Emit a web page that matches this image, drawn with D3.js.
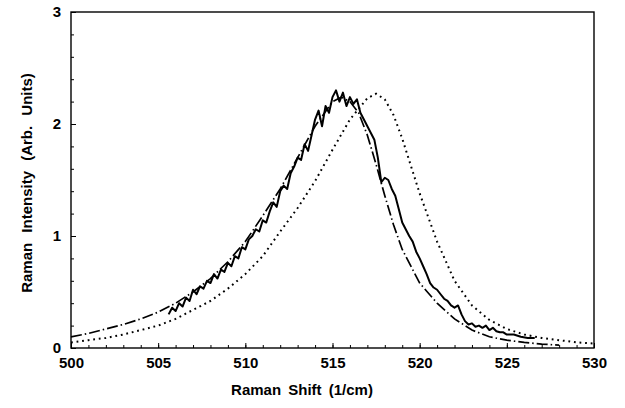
<!DOCTYPE html>
<html><head><meta charset="utf-8">
<script src="https://cdn.jsdelivr.net/npm/d3@7"></script>
<style>
body{margin:0;background:#fff;}
svg{display:block;}
text{font-family:"Liberation Sans",Arial,sans-serif;font-weight:bold;fill:#000;}
</style></head>
<body>
<svg id="chart" width="625" height="408"></svg>
<script>
// Measured spectrum (solid)
const measuredShift = [505.6,505.8,506.0,506.2,506.4,506.6,506.8,507.0,507.2,507.4,507.6,507.8,508.0,508.2,508.4,508.6,508.8,509.0,509.2,509.4,509.6,509.8,510.0,510.2,510.4,510.6,510.8,511.0,511.2,511.4,511.6,511.8,512.0,512.2,512.4,512.6,512.8,513.0,513.2,513.4,513.6,513.8,514.0,514.2,514.4,514.6,514.8,515.0,515.2,515.4,515.6,515.8,516.0,516.2,516.4,516.6,516.8,517.0,517.2,517.4,517.6,517.8,518.0,518.2,518.4,518.6,518.8,519.0,519.2,519.4,519.6,519.8,520.0,520.2,520.4,520.6,520.8,521.0,521.2,521.4,521.6,521.8,522.0,522.2,522.4,522.6,522.8,523.0,523.2,523.4,523.6,523.8,524.0,524.2,524.4,524.6,524.8,525.0,525.4,525.8,526.2,526.6];
const measuredIntensity = [0.30,0.36,0.33,0.40,0.37,0.45,0.42,0.52,0.48,0.55,0.53,0.60,0.58,0.66,0.62,0.70,0.68,0.76,0.73,0.82,0.80,0.90,0.88,0.97,1.00,1.06,1.04,1.14,1.12,1.22,1.30,1.26,1.40,1.45,1.42,1.56,1.62,1.70,1.68,1.82,1.76,1.90,2.04,2.12,1.98,2.16,2.10,2.24,2.30,2.20,2.28,2.16,2.24,2.18,2.22,2.10,2.04,1.98,1.92,1.86,1.70,1.48,1.52,1.50,1.42,1.36,1.24,1.12,1.06,1.00,0.95,0.86,0.80,0.73,0.66,0.58,0.54,0.52,0.48,0.44,0.42,0.38,0.36,0.38,0.30,0.24,0.21,0.22,0.19,0.20,0.18,0.20,0.16,0.18,0.15,0.14,0.14,0.12,0.12,0.10,0.09,0.09];

// Model fit (dash-dot)
const fitShift = [500,501,502,503,504,505,506,507,508,509,510,511,512,513,514,515,515.5,516,516.5,517,517.5,518,518.5,519,520,521,522,523,524,525,526,527,528];
const fitIntensity = [0.10,0.13,0.17,0.21,0.26,0.32,0.40,0.50,0.62,0.77,0.95,1.18,1.42,1.70,1.98,2.20,2.24,2.20,2.10,1.90,1.64,1.36,1.10,0.88,0.58,0.40,0.26,0.16,0.10,0.07,0.05,0.035,0.025];

// Bulk reference (dotted)
const bulkShift = [500,501,502,503,504,505,506,507,508,509,510,511,512,513,514,515,516,517,517.5,518,518.5,519,520,521,522,523,524,525,526,527,528,529,530];
const bulkIntensity = [0.05,0.07,0.09,0.12,0.16,0.20,0.26,0.34,0.42,0.53,0.66,0.82,1.04,1.25,1.49,1.77,2.04,2.23,2.27,2.22,2.08,1.87,1.38,0.95,0.60,0.38,0.25,0.17,0.12,0.09,0.07,0.05,0.04];

const xTicks = [500,505,510,515,520,525,530];
const yTicks = [0,1,2,3];

const svg = d3.select("#chart");
const L = 71, R = 594, T = 12, B = 348;
const x = d3.scaleLinear().domain([500,530]).range([L,R]);
const y = d3.scaleLinear().domain([0,3]).range([B,T]);

const line = (xs, ys) => d3.line().x((d,i)=>x(xs[i])).y((d,i)=>y(ys[i]))(xs);

// curves
svg.append("path").attr("d", line(bulkShift,bulkIntensity))
  .attr("fill","none").attr("stroke","#000").attr("stroke-width",2).attr("stroke-dasharray","1.8,3.8");
svg.append("path").attr("d", line(fitShift,fitIntensity))
  .attr("fill","none").attr("stroke","#000").attr("stroke-width",1.7).attr("stroke-dasharray","11,3,1.5,3");
svg.append("path").attr("d", line(measuredShift,measuredIntensity))
  .attr("fill","none").attr("stroke","#000").attr("stroke-width",2).attr("stroke-linejoin","round");

// minor ticks
const gxm = svg.append("g").attr("transform",`translate(0,${B})`)
  .call(d3.axisBottom(x).tickValues(d3.range(500,531,1)).tickSize(-3).tickFormat(""));
const gym = svg.append("g").attr("transform",`translate(${L},0)`)
  .call(d3.axisLeft(y).tickValues(d3.range(0,3.01,0.2)).tickSize(-3).tickFormat(""));
// major axes
const gx = svg.append("g").attr("transform",`translate(0,${B})`)
  .call(d3.axisBottom(x).tickValues(xTicks).tickSize(-5).tickPadding(9).tickFormat(d3.format("d")));
const gy = svg.append("g").attr("transform",`translate(${L},0)`)
  .call(d3.axisLeft(y).tickValues(yTicks).tickSize(-5).tickPadding(10).tickFormat(d3.format("d")));
[gxm,gym,gx,gy].forEach(g=>{
  g.selectAll(".domain").remove();
  g.selectAll("line").attr("stroke","#000").attr("stroke-width",1);
});
[gx,gy].forEach(g=>g.selectAll("text").attr("font-size",15)
  .attr("font-family","Liberation Sans, Arial, sans-serif").attr("font-weight","bold"));

// frame
svg.append("rect").attr("x",L).attr("y",T).attr("width",R-L).attr("height",B-T)
  .attr("fill","none").attr("stroke","#000").attr("stroke-width",1.4);

// titles
svg.append("text").attr("x",302).attr("y",395).attr("text-anchor","middle")
  .attr("font-size",15).attr("word-spacing",3).text("Raman Shift (1/cm)");
svg.append("text").attr("transform","translate(32,183) rotate(-90)").attr("text-anchor","middle")
  .attr("font-size",15).attr("word-spacing",6).text("Raman Intensity (Arb. Units)");
</script>
</body></html>
